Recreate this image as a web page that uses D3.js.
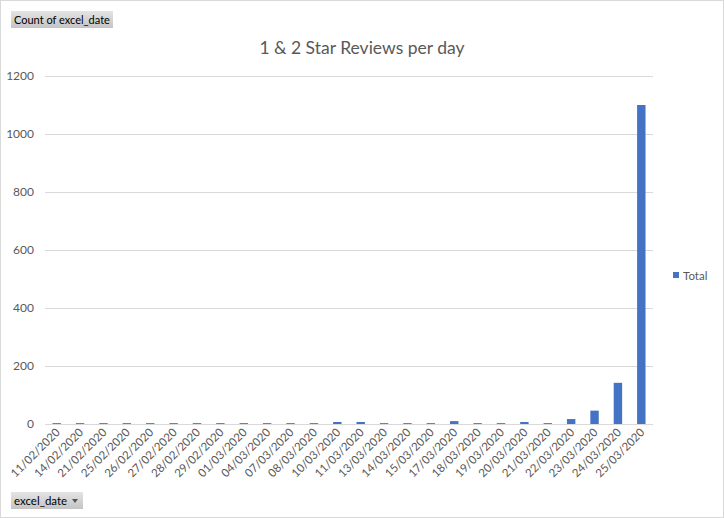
<!DOCTYPE html>
<html>
<head>
<meta charset="utf-8">
<script src="https://cdn.jsdelivr.net/npm/d3@7"></script>
<style>
  html, body { margin: 0; padding: 0; background: #fff; }
  svg { display: block; }
</style>
</head>
<body>
<svg id="chart" width="724" height="518"></svg>
<script>
const categories = ["11/02/2020","14/02/2020","21/02/2020","25/02/2020","26/02/2020","27/02/2020","28/02/2020","29/02/2020","01/03/2020","04/03/2020","07/03/2020","08/03/2020","10/03/2020","11/03/2020","13/03/2020","14/03/2020","15/03/2020","17/03/2020","18/03/2020","19/03/2020","20/03/2020","21/03/2020","22/03/2020","23/03/2020","24/03/2020","25/03/2020"];
const totals = [3,3,3,3,3,3,3,3,3,3,3,3,7,7,3,3,3,10,3,3,7,3,17,46,142,1100];
const yTicks = [0,200,400,600,800,1000,1200];
const seriesName = "Total";
const titleText = "1 & 2 Star Reviews per day";

const font = "Lato, 'Open Sans', sans-serif";
const svg = d3.select("#chart");
const W = 724, H = 518;

// outer border
svg.append("rect").attr("x",0.5).attr("y",0.5).attr("width",W-1).attr("height",H-1)
  .attr("fill","#fff").attr("stroke","#d9d9d9");

const x = d3.scaleBand().domain(categories).range([45, 653]).paddingInner(0.64).paddingOuter(0.32);
const y = d3.scaleLinear().domain([0,1200]).range([424, 76]);

// gridlines
svg.append("g").selectAll("line").data(yTicks).join("line")
  .attr("x1",45).attr("x2",653)
  .attr("y1",d=>Math.round(y(d))+0.5).attr("y2",d=>Math.round(y(d))+0.5)
  .attr("stroke","#d9d9d9").attr("stroke-width",1);

// y axis labels
const yAxis = d3.axisLeft(y).tickValues(yTicks).tickFormat(d3.format("d")).tickSize(0).tickPadding(0);
const gy = svg.append("g").attr("transform","translate(34,0)").call(yAxis);
gy.select(".domain").remove();
gy.selectAll("text").attr("font-family",font).attr("font-size",12).attr("fill","#595959");

// bars
svg.append("g").selectAll("rect").data(categories).join("rect")
  .attr("x",(d)=>x(d))
  .attr("width",x.bandwidth())
  .attr("y",(d,i)=>y(totals[i]))
  .attr("height",(d,i)=>y(0)-y(totals[i]))
  .attr("fill","#4472c4");

// x axis line
svg.append("line").attr("x1",45).attr("x2",653).attr("y1",424.5).attr("y2",424.5)
  .attr("stroke","#d9d9d9");

// x axis labels
const xAxis = d3.axisBottom(x).tickSize(0).tickPadding(0);
const gx = svg.append("g").attr("transform","translate(0,424)").call(xAxis);
gx.select(".domain").remove();
gx.selectAll("text")
  .attr("font-family",font).attr("font-size",11.5).attr("fill","#595959")
  .attr("text-anchor","end").attr("dy",0)
  .attr("transform","translate(4,9) rotate(-45)");

// title
svg.append("text").attr("x",362).attr("y",54).attr("text-anchor","middle")
  .attr("font-family",font).attr("font-size",17.5).attr("fill","#595959").text(titleText);

// legend
svg.append("rect").attr("x",673).attr("y",272).attr("width",6).attr("height",6).attr("fill","#4472c4");
svg.append("text").attr("x",683).attr("y",279.5).attr("font-family",font).attr("font-size",11.5)
  .attr("fill","#595959").text(seriesName);

// pivot field buttons
const defs = svg.append("defs");
const grad = defs.append("linearGradient").attr("id","btn").attr("x1",0).attr("y1",0).attr("x2",0).attr("y2",1);
grad.append("stop").attr("offset","0%").attr("stop-color","#e4e4e4");
grad.append("stop").attr("offset","100%").attr("stop-color","#c4c4c4");

svg.append("rect").attr("x",11).attr("y",11).attr("width",102).attr("height",17).attr("fill","url(#btn)");
svg.append("text").attr("x",14).attr("y",24).attr("font-family",font).attr("font-size",11)
  .attr("fill","#000").text("Count of excel_date");

svg.append("rect").attr("x",11).attr("y",492).attr("width",72).attr("height",17).attr("fill","url(#btn)");
svg.append("text").attr("x",14).attr("y",505).attr("font-family",font).attr("font-size",11.5)
  .attr("fill","#000").text("excel_date");
svg.append("path").attr("d","M72,499 L78,499 L75,503 Z").attr("fill","#555");
</script>
</body>
</html>
